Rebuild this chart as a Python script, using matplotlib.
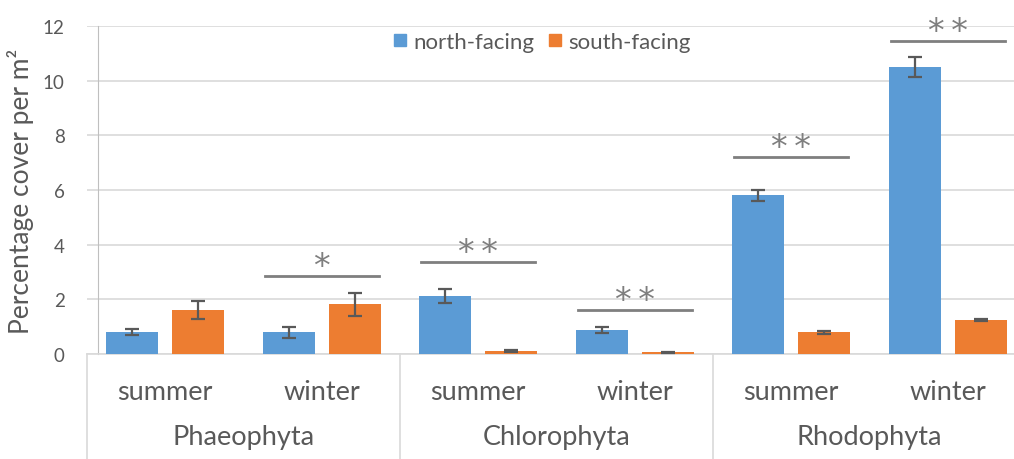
import numpy as np
import matplotlib
matplotlib.use("Agg")
import matplotlib.pyplot as plt
from matplotlib.lines import Line2D

plt.rcParams['font.family'] = ['Lato', 'DejaVu Sans']

# Algal cover by division, season and aspect
groups = ["Phaeophyta", "Chlorophyta", "Rhodophyta"]
seasons = ["summer", "winter"]
north = [0.8, 0.8, 2.12, 0.88, 5.8, 10.5]
north_err = [0.12, 0.2, 0.26, 0.12, 0.2, 0.38]
south = [1.6, 1.82, 0.1, 0.07, 0.8, 1.25]
south_err = [0.33, 0.42, 0.03, 0.02, 0.05, 0.04]
sig_labels = ["", "*", "*\u2009*", "*\u2009*", "*\u2009*", "*\u2009*"]
sig_heights = [None, 2.85, 3.35, 1.6, 7.2, 11.45]
y_ticks = [0, 2, 4, 6, 8, 10, 12]
series_names = ["north-facing", "south-facing"]

BLUE = "#5B9BD5"
ORANGE = "#ED7D31"
TEXT = "#595959"
GRID = "#D9D9D9"

W, H = 1014, 460
fig = plt.figure(figsize=(W / 100, H / 100), dpi=100)
left_px, right_px, top_px, bottom_px = 87, 1026, 27, 355
ax = fig.add_axes([left_px / W, 1 - bottom_px / H,
                   (right_px - left_px) / W, (bottom_px - top_px) / H])

x = np.arange(len(north))
off, bw = 0.21, 0.333
ekw = dict(ecolor="#595959", elinewidth=1.6, capsize=5, capthick=1.6, zorder=4)
ax.bar(x - off, north, bw, yerr=north_err, color=BLUE, error_kw=ekw, zorder=3)
ax.bar(x + off, south, bw, yerr=south_err, color=ORANGE, error_kw=ekw, zorder=3)

ax.set_xlim(-0.5, 5.5)
ax.set_ylim(0, 12)
ax.set_yticks(y_ticks)
ax.set_xticks([])
ax.yaxis.grid(True, color=GRID, lw=1.2, zorder=0)
ax.set_axisbelow(True)
for s in ("top", "right"):
    ax.spines[s].set_visible(False)
ax.spines["left"].set_position(("data", -0.43))
ax.spines["left"].set_color("#BFBFBF")
ax.spines["bottom"].set_color(GRID)
ax.spines["bottom"].set_linewidth(1.2)
ax.tick_params(axis="y", length=0, pad=24, labelsize=13.5, labelcolor=TEXT)
ax.set_ylabel("Percentage cover per m²", fontsize=19, color=TEXT, labelpad=6)

# significance bars
for i, (lab, h) in enumerate(zip(sig_labels, sig_heights)):
    if h is None:
        continue
    ax.plot([i - 0.365, i + 0.365], [h, h], color="#7F7F7F", lw=2, zorder=5)
    ax.annotate(lab, (i, h), xytext=(0, -5), textcoords="offset points",
                ha="center", va="bottom", fontsize=24, color="#7F7F7F",
                family="DejaVu Sans")

# two-level category axis
tr = ax.get_xaxis_transform()
for i in range(len(north)):
    ax.text(i, -0.113, seasons[i % 2], transform=tr, ha="center", va="center",
            fontsize=19.5, color=TEXT)
for g, name in enumerate(groups):
    ax.text(2 * g + 0.5, -0.253, name, transform=tr, ha="center", va="center",
            fontsize=19.5, color=TEXT)
for xs in (-0.5, 1.5, 3.5, 5.5):
    ax.plot([xs, xs], [0, -0.33], transform=tr, color=GRID, lw=1.2, clip_on=False)

handles = [Line2D([], [], marker="s", ls="", color=c, markersize=8)
           for c in (BLUE, ORANGE)]
fig.legend(handles, series_names, loc="center", bbox_to_anchor=(541 / W, 1 - 43 / H),
           ncol=2, frameon=False, handletextpad=0.2, columnspacing=0.5,
           fontsize=16, labelcolor=TEXT, handlelength=0.8)

fig.savefig("out.png", dpi=100)
